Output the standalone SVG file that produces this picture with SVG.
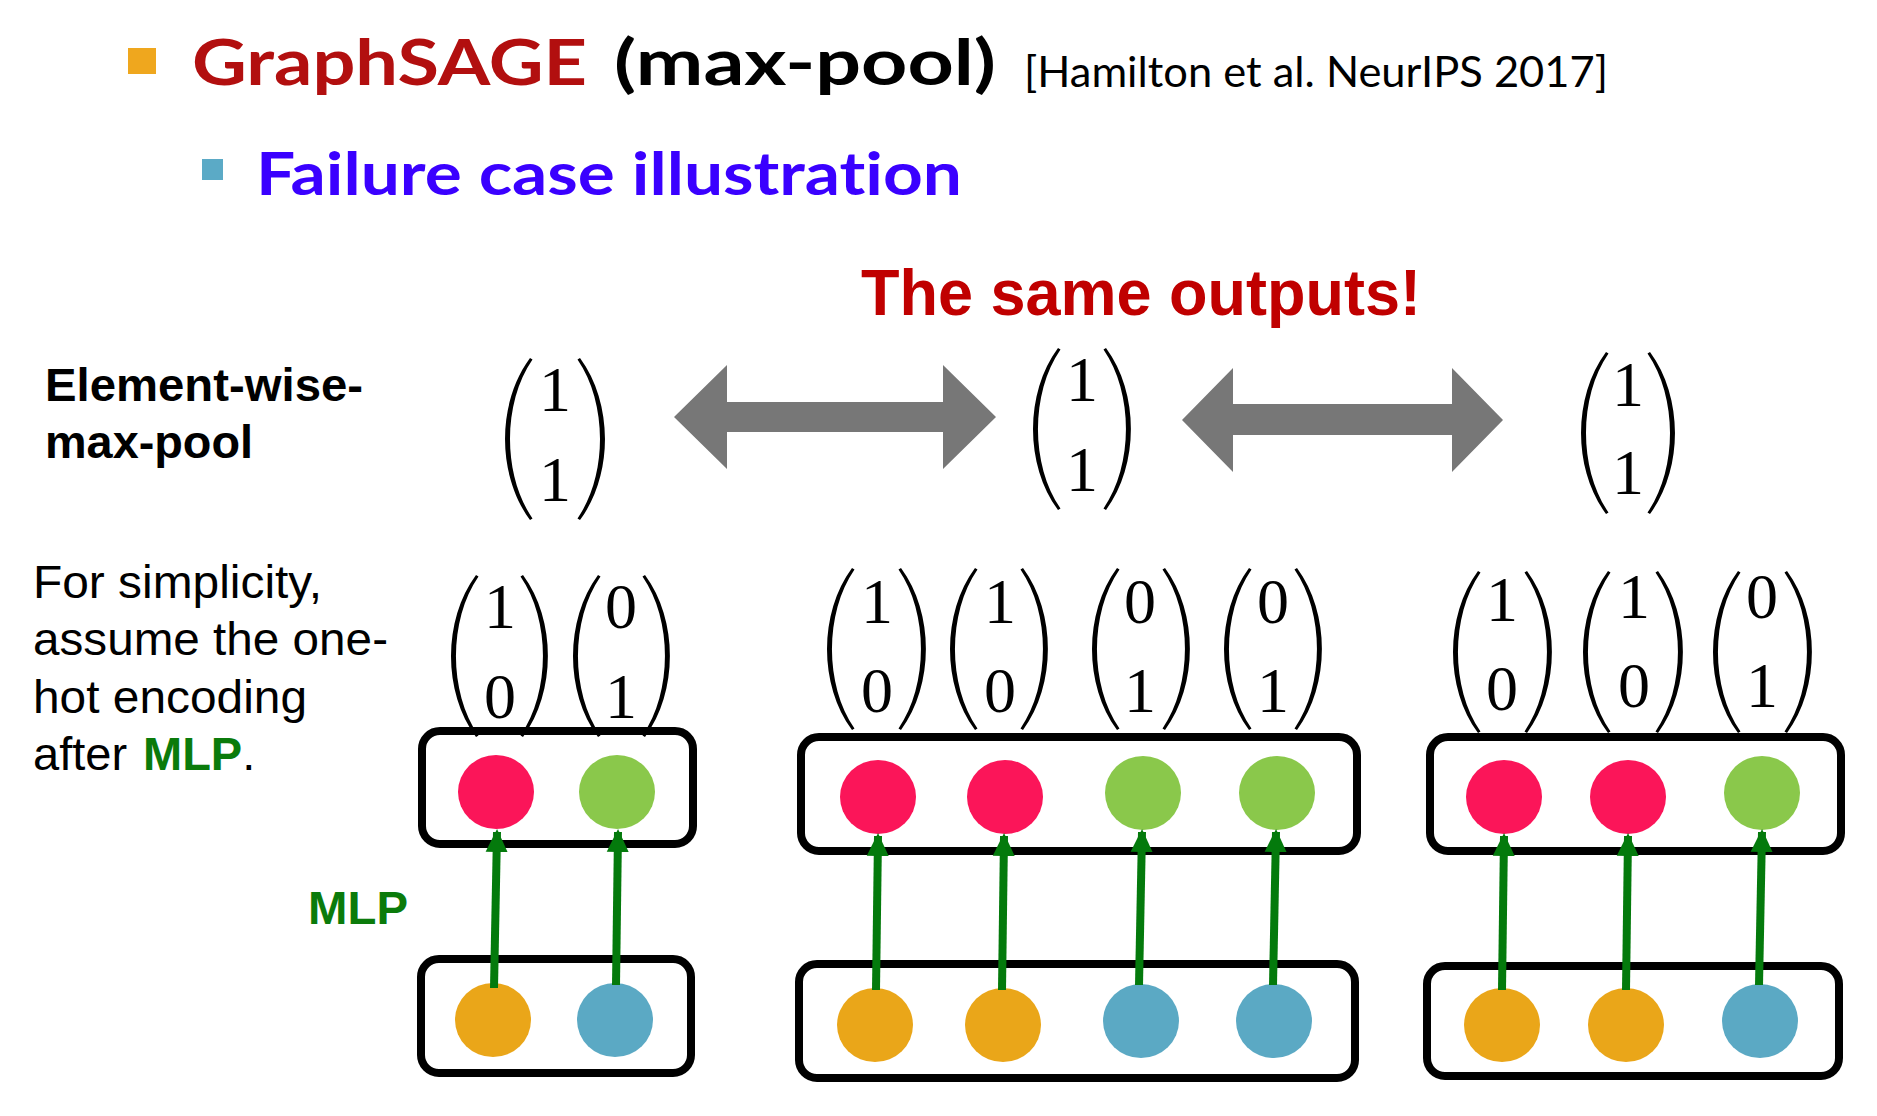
<svg xmlns="http://www.w3.org/2000/svg" width="1877" height="1116" viewBox="0 0 1877 1116">
<style>
.cal{font-family:Lato,"Open Sans","Liberation Sans",sans-serif;font-variant-ligatures:none}
.ar{font-family:"Liberation Sans",Arial,sans-serif}
.dg{font-family:"Liberation Serif","DejaVu Serif",serif;font-size:64px;fill:#000;text-anchor:middle}
.box{fill:none;stroke:#000;stroke-width:8}
.red{fill:#FB1559}.grn{fill:#8AC84B}.org{fill:#EAA619}.blu{fill:#5BA9C4}
.mlp{stroke:#047A0C;stroke-width:8;fill:none;marker-end:url(#ah)}
.par{fill:#000}
.big{fill:#777}
</style>
<defs>
<path id="lp" d="M26,0 C-7.3,45 -7.3,117 26,162 L28.5,160.5 C-1.5,117 -1.5,45 28.5,1.5 Z"/>
<marker id="ah" markerUnits="userSpaceOnUse" markerWidth="24" markerHeight="26" viewBox="0 0 24 24" refX="20" refY="12" orient="auto">
<path d="M0,1 L23,12 L0,23 Z" fill="#047A0C"/>
</marker>
</defs>
<rect width="1877" height="1116" fill="#fff"/>

<g id="title">
<rect x="128" y="48" width="28" height="26" fill="#EFA71E"/>
<text class="cal" x="192" y="85" font-size="64" font-weight="700" fill="#B20F0F" textLength="395" lengthAdjust="spacingAndGlyphs">GraphSAGE</text>
<text class="cal" x="614" y="85" font-size="64" font-weight="700" fill="#000" textLength="382" lengthAdjust="spacingAndGlyphs">(max-pool)</text>
<text class="cal" x="1024" y="87" font-size="42" fill="#000" textLength="584" lengthAdjust="spacingAndGlyphs">[Hamilton et al. NeurIPS 2017]</text>
<rect x="202" y="159" width="21" height="21" fill="#5BAAC6"/>
<text class="cal" x="256" y="195" font-size="60" font-weight="700" fill="#3A00FF" textLength="706" lengthAdjust="spacingAndGlyphs">Failure case illustration</text>
</g>

<g id="same-outputs">
<text class="ar" x="861" y="315" font-size="64" font-weight="700" fill="#C00000" textLength="560" lengthAdjust="spacingAndGlyphs">The same outputs!</text>
</g>

<g id="left-text" class="ar">
<text x="45" y="401" font-size="46" font-weight="700" textLength="318" lengthAdjust="spacingAndGlyphs">Element-wise-</text>
<text x="45" y="458" font-size="46" font-weight="700" textLength="208" lengthAdjust="spacingAndGlyphs">max-pool</text>
<text x="33" y="598" font-size="47" textLength="289" lengthAdjust="spacingAndGlyphs">For simplicity,</text>
<text x="33" y="655" font-size="47" textLength="355" lengthAdjust="spacingAndGlyphs">assume the one-</text>
<text x="33" y="713" font-size="47" textLength="274" lengthAdjust="spacingAndGlyphs">hot encoding</text>
<text x="33" y="770" font-size="47">after <tspan x="143" font-weight="700" fill="#0B7B0B">MLP</tspan>.</text>
<text x="308" y="924" font-size="46" font-weight="700" fill="#0B7B0B" textLength="100" lengthAdjust="spacingAndGlyphs">MLP</text>
</g>

<g id="pooled-vectors">
<g class="par">
<use href="#lp" transform="translate(504,358)"/><use href="#lp" transform="translate(606,358) scale(-1,1)"/>
<use href="#lp" transform="translate(1032,348)"/><use href="#lp" transform="translate(1132,348) scale(-1,1)"/>
<use href="#lp" transform="translate(1580,352)"/><use href="#lp" transform="translate(1676,352) scale(-1,1)"/>
</g>
<text class="dg" x="555" y="411">1</text><text class="dg" x="555" y="501">1</text>
<text class="dg" x="1082" y="401">1</text><text class="dg" x="1082" y="491">1</text>
<text class="dg" x="1628" y="406">1</text><text class="dg" x="1628" y="494">1</text>
</g>

<g id="double-arrows">
<polygon class="big" points="674,417 727,365 727,402 943,402 943,365 996,417 943,469 943,432 727,432 727,469"/>
<polygon class="big" points="1182,420 1233,368 1233,404 1452,404 1452,368 1503,420 1452,472 1452,435 1233,435 1233,472"/>
</g>

<g id="graph1">
<g class="par">
<use href="#lp" transform="translate(450,575)"/><use href="#lp" transform="translate(549,575) scale(-1,1)"/>
<use href="#lp" transform="translate(572,575)"/><use href="#lp" transform="translate(671,575) scale(-1,1)"/>
</g>
<text class="dg" x="500" y="628">1</text><text class="dg" x="500" y="718">0</text>
<text class="dg" x="621" y="628">0</text><text class="dg" x="621" y="718">1</text>
<rect class="box" x="422" y="731" width="271" height="113" rx="18"/>
<rect class="box" x="421" y="959" width="270" height="114" rx="18"/>
<ellipse class="red" cx="496" cy="792" rx="38" ry="37"/>
<ellipse class="grn" cx="617" cy="792" rx="38" ry="37"/>
<ellipse class="org" cx="493" cy="1020" rx="38" ry="37"/>
<ellipse class="blu" cx="615" cy="1020" rx="38" ry="37"/>
</g>

<g id="graph2">
<g class="par">
<use href="#lp" transform="translate(826,568)"/><use href="#lp" transform="translate(927,568) scale(-1,1)"/>
<use href="#lp" transform="translate(949,568)"/><use href="#lp" transform="translate(1049,568) scale(-1,1)"/>
<use href="#lp" transform="translate(1091,568)"/><use href="#lp" transform="translate(1191,568) scale(-1,1)"/>
<use href="#lp" transform="translate(1223,568)"/><use href="#lp" transform="translate(1323,568) scale(-1,1)"/>
</g>
<text class="dg" x="877" y="623">1</text><text class="dg" x="877" y="712">0</text>
<text class="dg" x="1000" y="623">1</text><text class="dg" x="1000" y="712">0</text>
<text class="dg" x="1140" y="623">0</text><text class="dg" x="1140" y="712">1</text>
<text class="dg" x="1273" y="623">0</text><text class="dg" x="1273" y="712">1</text>
<rect class="box" x="801" y="737" width="556" height="114" rx="18"/>
<rect class="box" x="799" y="964" width="556" height="114" rx="18"/>
<ellipse class="red" cx="878" cy="797" rx="38" ry="37"/>
<ellipse class="red" cx="1005" cy="797" rx="38" ry="37"/>
<ellipse class="grn" cx="1143" cy="793" rx="38" ry="37"/>
<ellipse class="grn" cx="1277" cy="793" rx="38" ry="37"/>
<ellipse class="org" cx="875" cy="1025" rx="38" ry="37"/>
<ellipse class="org" cx="1003" cy="1025" rx="38" ry="37"/>
<ellipse class="blu" cx="1141" cy="1021" rx="38" ry="37"/>
<ellipse class="blu" cx="1274" cy="1021" rx="38" ry="37"/>
</g>

<g id="graph3">
<g class="par">
<use href="#lp" transform="translate(1452,571)"/><use href="#lp" transform="translate(1553,571) scale(-1,1)"/>
<use href="#lp" transform="translate(1582,571)"/><use href="#lp" transform="translate(1684,571) scale(-1,1)"/>
<use href="#lp" transform="translate(1712,571)"/><use href="#lp" transform="translate(1813,571) scale(-1,1)"/>
</g>
<text class="dg" x="1502" y="621">1</text><text class="dg" x="1502" y="710">0</text>
<text class="dg" x="1634" y="618">1</text><text class="dg" x="1634" y="707">0</text>
<text class="dg" x="1762" y="618">0</text><text class="dg" x="1762" y="707">1</text>
<rect class="box" x="1430" y="737" width="411" height="114" rx="18"/>
<rect class="box" x="1427" y="966" width="412" height="110" rx="18"/>
<ellipse class="red" cx="1504" cy="797" rx="38" ry="37"/>
<ellipse class="red" cx="1628" cy="797" rx="38" ry="37"/>
<ellipse class="grn" cx="1762" cy="793" rx="38" ry="37"/>
<ellipse class="org" cx="1502" cy="1025" rx="38" ry="37"/>
<ellipse class="org" cx="1626" cy="1025" rx="38" ry="37"/>
<ellipse class="blu" cx="1760" cy="1021" rx="38" ry="37"/>
</g>

<g id="connectors">
<line class="mlp" x1="494" y1="988" x2="497" y2="832"/>
<line class="mlp" x1="616" y1="985" x2="618" y2="832"/>
<line class="mlp" x1="876" y1="990" x2="878" y2="836"/>
<line class="mlp" x1="1002" y1="990" x2="1004" y2="836"/>
<line class="mlp" x1="1139" y1="985" x2="1142" y2="832"/>
<line class="mlp" x1="1273" y1="985" x2="1276" y2="832"/>
<line class="mlp" x1="1502" y1="990" x2="1504" y2="836"/>
<line class="mlp" x1="1626" y1="990" x2="1628" y2="836"/>
<line class="mlp" x1="1759" y1="985" x2="1762" y2="832"/>
</g>
</svg>
